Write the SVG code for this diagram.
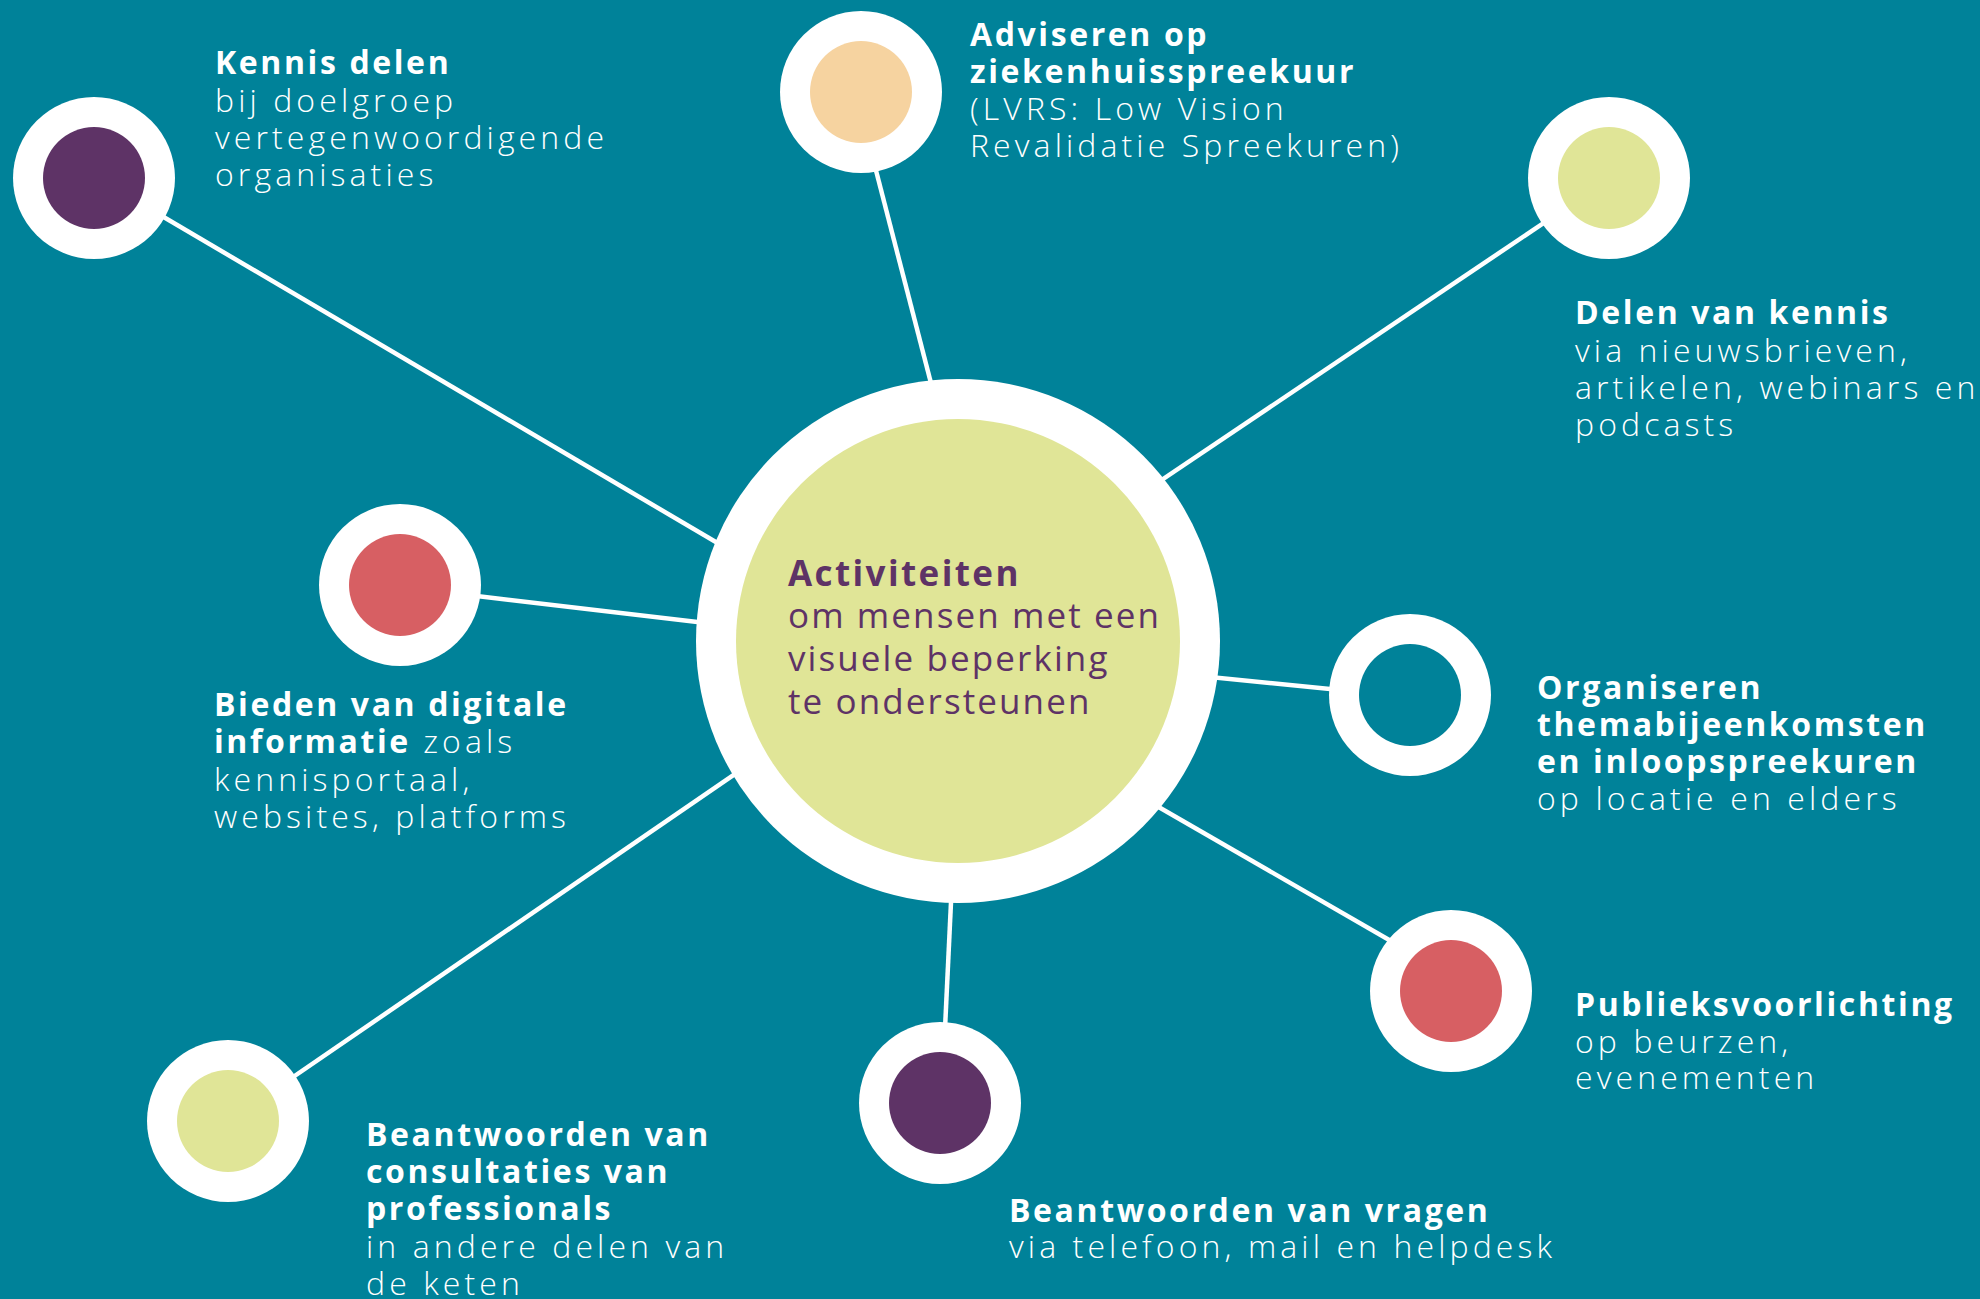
<svg xmlns="http://www.w3.org/2000/svg" width="1980" height="1299" viewBox="0 0 1980 1299">
<style>
.bg{fill:#008299}
.ring{fill:#ffffff}
.hole{fill:#008299}
.purple{fill:#5e3366}
.peach{fill:#f6d3a0}
.lime{fill:#e0e597}
.coral{fill:#d75f63}
.conn line{stroke:#ffffff;stroke-width:4.5;stroke-linecap:butt}
.lbl{font-family:"Open Sans","Liberation Sans",sans-serif;font-size:32px;fill:#ffffff}
.lbl .b{font-weight:700;letter-spacing:2.6px}
.lbl .r{font-weight:300;letter-spacing:4.1px}
.ctr{font-family:"Open Sans","Liberation Sans",sans-serif;font-size:35px;fill:#5e3366}
.ctr .b{font-weight:700;letter-spacing:2.4px}
.ctr .r{font-weight:400;letter-spacing:2.1px}
</style>
<rect class="bg" x="0" y="0" width="1980" height="1299"/>
<g id="connectors" class="conn">
<line x1="150" y1="209" x2="760" y2="568"/>
<line x1="872" y1="155" x2="940" y2="418"/>
<line x1="1560" y1="212" x2="1120" y2="508"/>
<line x1="460" y1="594" x2="740" y2="627"/>
<line x1="1180" y1="674" x2="1380" y2="694"/>
<line x1="1110" y1="779" x2="1410" y2="952"/>
<line x1="770" y1="750" x2="280" y2="1086"/>
<line x1="953" y1="860" x2="944" y2="1050"/>
</g>
<g id="center">
<circle class="ring" cx="958" cy="641" r="262"/>
<circle class="lime" cx="958" cy="641" r="222"/>
<text class="ctr"><tspan class="b" x="788" y="586">Activiteiten</tspan><tspan class="r" x="788" y="628">om mensen met een</tspan><tspan class="r" x="788" y="671">visuele beperking</tspan><tspan class="r" x="788" y="714">te ondersteunen</tspan></text>
</g>
<g id="node-kennis-delen">
<circle class="ring" cx="94" cy="178" r="81"/>
<circle class="purple" cx="94" cy="178" r="51"/>
<text class="lbl"><tspan class="b" x="215" y="74">Kennis delen</tspan><tspan class="r" x="215" y="111.5">bij doelgroep</tspan><tspan class="r" x="215" y="149">vertegenwoordigende</tspan><tspan class="r" x="215" y="186">organisaties</tspan></text>
</g>
<g id="node-adviseren">
<circle class="ring" cx="861" cy="92" r="81"/>
<circle class="peach" cx="861" cy="92" r="51"/>
<text class="lbl"><tspan class="b" x="970" y="45.5">Adviseren op</tspan><tspan class="b" x="970" y="83">ziekenhuisspreekuur</tspan><tspan class="r" x="970" y="120">(LVRS: Low Vision</tspan><tspan class="r" x="970" y="157">Revalidatie Spreekuren)</tspan></text>
</g>
<g id="node-delen-van-kennis">
<circle class="ring" cx="1609" cy="178" r="81"/>
<circle class="lime" cx="1609" cy="178" r="51"/>
<text class="lbl"><tspan class="b" x="1575" y="324">Delen van kennis</tspan><tspan class="r" x="1575" y="362">via nieuwsbrieven,</tspan><tspan class="r" x="1575" y="399">artikelen, webinars en</tspan><tspan class="r" x="1575" y="436">podcasts</tspan></text>
</g>
<g id="node-bieden">
<circle class="ring" cx="400" cy="585" r="81"/>
<circle class="coral" cx="400" cy="585" r="51"/>
<text class="lbl"><tspan class="b" x="214" y="716">Bieden van digitale</tspan><tspan class="b" x="214" y="753">informatie</tspan><tspan class="r"> zoals</tspan><tspan class="r" x="214" y="791">kennisportaal,</tspan><tspan class="r" x="214" y="828">websites, platforms</tspan></text>
</g>
<g id="node-organiseren">
<circle class="ring" cx="1410" cy="695" r="81"/>
<circle class="hole" cx="1410" cy="695" r="51"/>
<text class="lbl"><tspan class="b" x="1537" y="699">Organiseren</tspan><tspan class="b" x="1537" y="736">themabijeenkomsten</tspan><tspan class="b" x="1537" y="773">en inloopspreekuren</tspan><tspan class="r" x="1537" y="810">op locatie en elders</tspan></text>
</g>
<g id="node-publieks">
<circle class="ring" cx="1451" cy="991" r="81"/>
<circle class="coral" cx="1451" cy="991" r="51"/>
<text class="lbl"><tspan class="b" x="1575" y="1016">Publieksvoorlichting</tspan><tspan class="r" x="1575" y="1053">op beurzen,</tspan><tspan class="r" x="1575" y="1089">evenementen</tspan></text>
</g>
<g id="node-consultaties">
<circle class="ring" cx="228" cy="1121" r="81"/>
<circle class="lime" cx="228" cy="1121" r="51"/>
<text class="lbl"><tspan class="b" x="366" y="1146">Beantwoorden van</tspan><tspan class="b" x="366" y="1183">consultaties van</tspan><tspan class="b" x="366" y="1220">professionals</tspan><tspan class="r" x="366" y="1258">in andere delen van</tspan><tspan class="r" x="366" y="1295">de keten</tspan></text>
</g>
<g id="node-vragen">
<circle class="ring" cx="940" cy="1103" r="81"/>
<circle class="purple" cx="940" cy="1103" r="51"/>
<text class="lbl"><tspan class="b" x="1009" y="1222">Beantwoorden van vragen</tspan><tspan class="r" x="1009" y="1258">via telefoon, mail en helpdesk</tspan></text>
</g>
</svg>
